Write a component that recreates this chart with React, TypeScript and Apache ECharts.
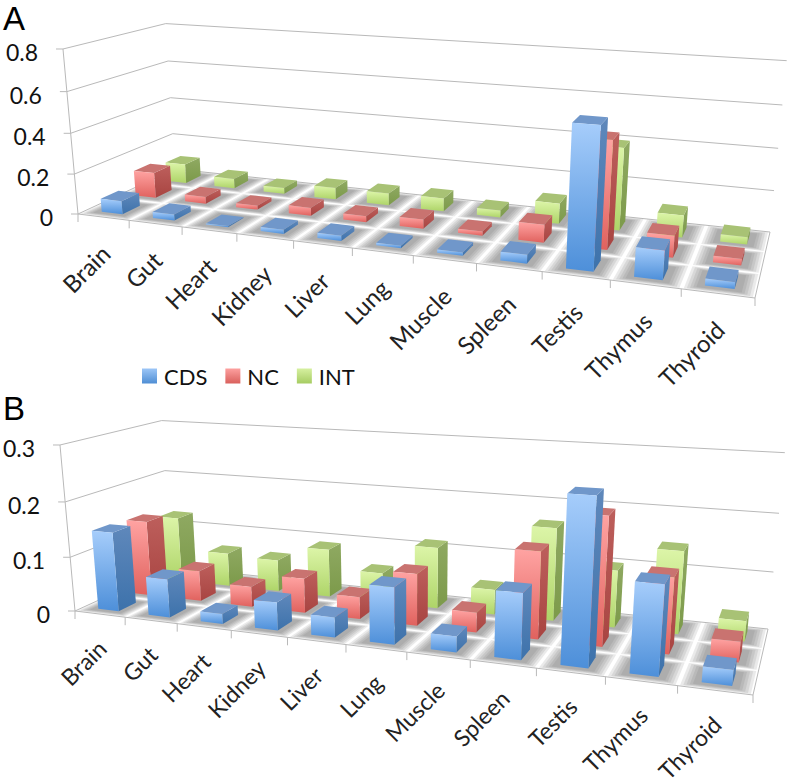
import React, { useEffect, useRef } from "react";
import * as echarts from "echarts";

const categories = ["Brain", "Gut", "Heart", "Kidney", "Liver", "Lung", "Muscle", "Spleen", "Testis", "Thymus", "Thyroid"];
const seriesNames = ["CDS", "NC", "INT"];

const ticksA = [0, 0.2, 0.4, 0.6, 0.8];
const cdsA = [0.065, 0.03, 0.005, 0.02, 0.025, 0.012, 0.015, 0.04, 0.63, 0.13, 0.03];
const ncA = [0.13, 0.035, 0.02, 0.04, 0.03, 0.045, 0.02, 0.085, 0.5, 0.1, 0.03];
const intA = [0.1, 0.05, 0.03, 0.06, 0.06, 0.065, 0.035, 0.1, 0.395, 0.105, 0.035];

const ticksB = [0, 0.1, 0.2, 0.3];
const cdsB = [0.145, 0.07, 0.018, 0.05, 0.035, 0.098, 0.027, 0.11, 0.27, 0.145, 0.025];
const ncB = [0.141, 0.057, 0.0375, 0.063, 0.04, 0.092, 0.035, 0.15, 0.217, 0.127, 0.034];
const intB = [0.125, 0.064, 0.06, 0.09, 0.055, 0.112, 0.045, 0.165, 0.1, 0.143, 0.035];

type Pt = [number, number];
type View = { floor: Pt[]; vp: Pt; q: number; labelDy: number; labelSize: number };
const FONT = "Lato";
const GRID_LINE = "#b9b9b9";

const viewA: View = {
  floor: [[78, 214], [755, 298], [770, 232], [175, 169]],
  vp: [413, 3899],
  q: -0.04286,
  labelDy: 32,
  labelSize: 24,
};
const viewB: View = {
  floor: [[75, 611], [753, 695], [768, 629], [171, 567]],
  vp: [413, 4351],
  q: -0.0425,
  labelDy: 30,
  labelSize: 23,
};

function projector(view: View) {
  const [p0, p1, p2, p3] = view.floor;
  const sx = p0[0] - p1[0] + p2[0] - p3[0];
  const sy = p0[1] - p1[1] + p2[1] - p3[1];
  const dx1 = p1[0] - p2[0], dx2 = p3[0] - p2[0], dy1 = p1[1] - p2[1], dy2 = p3[1] - p2[1];
  const den = dx1 * dy2 - dx2 * dy1;
  const g = (sx * dy2 - dx2 * sy) / den;
  const h = (dx1 * sy - sx * dy1) / den;
  const a = p1[0] - p0[0] + g * p1[0], b = p3[0] - p0[0] + h * p3[0], c = p0[0];
  const d = p1[1] - p0[1] + g * p1[1], e = p3[1] - p0[1] + h * p3[1], f = p0[1];
  return (u: number, v: number, z: number): Pt => {
    const k = z * view.q;
    const w = g * u + h * v + 1 + k;
    return [(a * u + b * v + c + k * view.vp[0]) / w, (d * u + e * v + f + k * view.vp[1]) / w];
  };
}

const vGrad = (c0: string, c1: string) =>
  new echarts.graphic.LinearGradient(0, 0, 0, 1, [
    { offset: 0, color: c0 },
    { offset: 1, color: c1 },
  ]);

const palette = [
  { front: ["#a6cdfb", "#4d8fd9"], top: "#7097ca", side: ["#5f88bb", "#3d72ab"], legend: ["#9cc6f7", "#4f8ed4"] },
  { front: ["#ffa3a2", "#e0625e"], top: "#c97370", side: ["#bd5f5c", "#a84441"], legend: ["#fda09f", "#d9605c"] },
  { front: ["#dcf5a8", "#aed468"], top: "#a8c275", side: ["#8fa962", "#7c9a4a"], legend: ["#d6f0a0", "#a6cc62"] },
];

const ROW_V = [1 / 6, 1 / 2, 5 / 6];
const BAR_U = 0.205;
const BAR_V = 0.085;
const SHADOW_LAYERS = [
  [0.47, 0.158],
  [0.43, 0.148],
  [0.39, 0.138],
  [0.35, 0.128],
  [0.31, 0.118],
];

function norm(params: any, api: any, idx: number, val: number) {
  const c = api.coord([idx, val]);
  const cs = params.coordSys;
  return {
    u: (c[0] - cs.x) / cs.width,
    z: (cs.y + cs.height - c[1]) / cs.height,
    band: api.size([1, 0])[0] / cs.width,
  };
}

function panelSeries(gridIndex: number, view: View, ticks: number[], values: number[][], tag: string) {
  const P = projector(view);
  const common = { type: "custom", coordinateSystem: "cartesian2d", xAxisIndex: gridIndex, yAxisIndex: gridIndex, clip: false, silent: true };
  const out: any[] = [];

  out.push({
    ...common,
    name: "floor" + tag,
    data: [[0, 0]],
    renderItem: () => ({
      type: "polygon",
      shape: { points: [P(0, 0, 0), P(1, 0, 0), P(1, 1, 0), P(0, 1, 0)] },
      style: { fill: "#ffffff", stroke: GRID_LINE, lineWidth: 1 },
    }),
  });

  out.push({
    ...common,
    name: "wall" + tag,
    data: ticks.map((t) => [0, t]),
    renderItem: (params: any, api: any) => {
      const val = api.value(1);
      const { z } = norm(params, api, 0, val);
      const a = P(0, 0, z), b = P(0, 1, z), c = P(1, 1, z);
      const children: any[] = [
        { type: "line", shape: { x1: a[0] - 7, y1: a[1], x2: a[0], y2: a[1] }, style: { stroke: GRID_LINE, lineWidth: 1 } },
        {
          type: "text",
          style: {
            text: String(val),
            x: a[0] - 25,
            y: a[1] + 3,
            align: "right",
            verticalAlign: "middle",
            font: `23px ${FONT}`,
            fill: "#111",
          },
        },
      ];
      if (z > 0) {
        children.push({ type: "polyline", shape: { points: [a, b, c] }, style: { stroke: GRID_LINE, lineWidth: 1, fill: "none" } });
      }
      return { type: "group", children };
    },
  });

  out.push({
    ...common,
    name: "axis" + tag,
    data: [[0, ticks[ticks.length - 1]]],
    renderItem: () => {
      const a = P(0, 0, 0), b = P(0, 0, 1);
      return { type: "line", shape: { x1: a[0], y1: a[1], x2: b[0], y2: b[1] }, style: { stroke: GRID_LINE, lineWidth: 1 } };
    },
  });

  out.push({
    ...common,
    name: "cats" + tag,
    data: categories.map((c, i) => [i, 0]),
    renderItem: (params: any, api: any) => {
      const i = api.value(0);
      const { u, band } = norm(params, api, i, 0);
      const mid = P(u, 0, 0);
      const left = P(u - band / 2, 0, 0);
      const children: any[] = [
        { type: "line", shape: { x1: left[0], y1: left[1], x2: left[0], y2: left[1] + 8 }, style: { stroke: GRID_LINE, lineWidth: 1 } },
        {
          type: "text",
          x: mid[0] + 2,
          y: mid[1] + view.labelDy,
          rotation: Math.PI / 4,
          style: {
            text: categories[i],
            x: 0,
            y: 0,
            align: "right",
            verticalAlign: "middle",
            font: `${view.labelSize}px ${FONT}`,
            lineHeight: 18,
            fill: "#222",
          },
        },
      ];
      if (i === categories.length - 1) {
        const r = P(u + band / 2, 0, 0);
        children.push({ type: "line", shape: { x1: r[0], y1: r[1], x2: r[0], y2: r[1] + 8 }, style: { stroke: GRID_LINE, lineWidth: 1 } });
      }
      return { type: "group", children };
    },
  });

  // soft contact shadows on the floor, under every bar
  values.forEach((vals, s) => {
    out.push({
      ...common,
      name: "shadow" + tag + s,
      data: vals.map((v, i) => [i, v]),
      renderItem: (params: any, api: any) => {
        const i = api.value(0);
        const { u, band } = norm(params, api, i, 0);
        const v = ROW_V[s];
        return {
          type: "group",
          children: SHADOW_LAYERS.map(([fu, dv]) => {
            const du = band * fu;
            return {
              type: "polygon",
              shape: { points: [P(u - du, v - dv, 0), P(u + du, v - dv, 0), P(u + du, v + dv, 0), P(u - du, v + dv, 0)] },
              style: { fill: "rgba(90,90,90,0.13)" },
            };
          }),
        };
      },
    });
  });

  [2, 1, 0].forEach((s) => {
    const pal = palette[s];
    const legendName = seriesNames[s];
    out.push({
      ...common,
      name: legendName,
      itemStyle: { color: pal.legend[1] },
      data: values[s].map((v, i) => [i, v]),
      renderItem: (params: any, api: any) => {
        const i = api.value(0);
        const val = api.value(1);
        const { u, z, band } = norm(params, api, i, val);
        const du = band * BAR_U;
        const v = ROW_V[s];
        const u0 = u - du, u1 = u + du, v0 = v - BAR_V, v1 = v + BAR_V;
        return {
          type: "group",
          children: [
            {
              type: "polygon",
              shape: { points: [P(u1, v0, 0), P(u1, v1, 0), P(u1, v1, z), P(u1, v0, z)] },
              style: { fill: vGrad(pal.side[0], pal.side[1]) },
            },
            {
              type: "polygon",
              shape: { points: [P(u0, v0, z), P(u1, v0, z), P(u1, v1, z), P(u0, v1, z)] },
              style: { fill: pal.top },
            },
            {
              type: "polygon",
              shape: { points: [P(u0, v0, 0), P(u1, v0, 0), P(u1, v0, z), P(u0, v0, z)] },
              style: { fill: vGrad(pal.front[0], pal.front[1]) },
            },
          ],
        };
      },
    });
  });
  return out;
}

export default function App() {
  const ref = useRef<HTMLDivElement>(null);
  useEffect(() => {
    const chart = echarts.init(ref.current!, undefined, { renderer: "svg" });
    const axisOff = { show: false };
    chart.setOption({
      animation: false,
      backgroundColor: "#ffffff",
      grid: [
        { left: 60, top: 20, width: 720, height: 280 },
        { left: 60, top: 420, width: 720, height: 280 },
      ],
      xAxis: [
        { type: "category", gridIndex: 0, data: categories, ...axisOff },
        { type: "category", gridIndex: 1, data: categories, ...axisOff },
      ],
      yAxis: [
        { type: "value", gridIndex: 0, min: 0, max: 0.8, interval: 0.2, ...axisOff },
        { type: "value", gridIndex: 1, min: 0, max: 0.3, interval: 0.1, ...axisOff },
      ],
      legend: {
        left: 137,
        top: 360,
        selectedMode: false,
        itemWidth: 15,
        itemHeight: 15,
        itemGap: 18,
        icon: "rect",
        textStyle: { fontFamily: FONT, fontSize: 22, color: "#111", padding: [0, 0, 0, 2] },
        data: seriesNames.map((name, s) => ({
          name,
          icon: "rect",
          itemStyle: { color: vGrad(palette[s].legend[0], palette[s].legend[1]) },
        })),
      },
      graphic: [
        { type: "text", left: 3, top: 2, style: { text: "A", font: "33px 'Liberation Sans'", lineHeight: 26, fill: "#000" } },
        { type: "text", left: 3, top: 392, style: { text: "B", font: "33px 'Liberation Sans'", lineHeight: 26, fill: "#000" } },
      ],
      series: [
        ...panelSeries(0, viewA, ticksA, [cdsA, ncA, intA], "A"),
        ...panelSeries(1, viewB, ticksB, [cdsB, ncB, intB], "B"),
      ],
    });
    return () => chart.dispose();
  }, []);
  return <div ref={ref} style={{ position: "absolute", left: 0, top: 0, width: 787, height: 784 }} />;
}
